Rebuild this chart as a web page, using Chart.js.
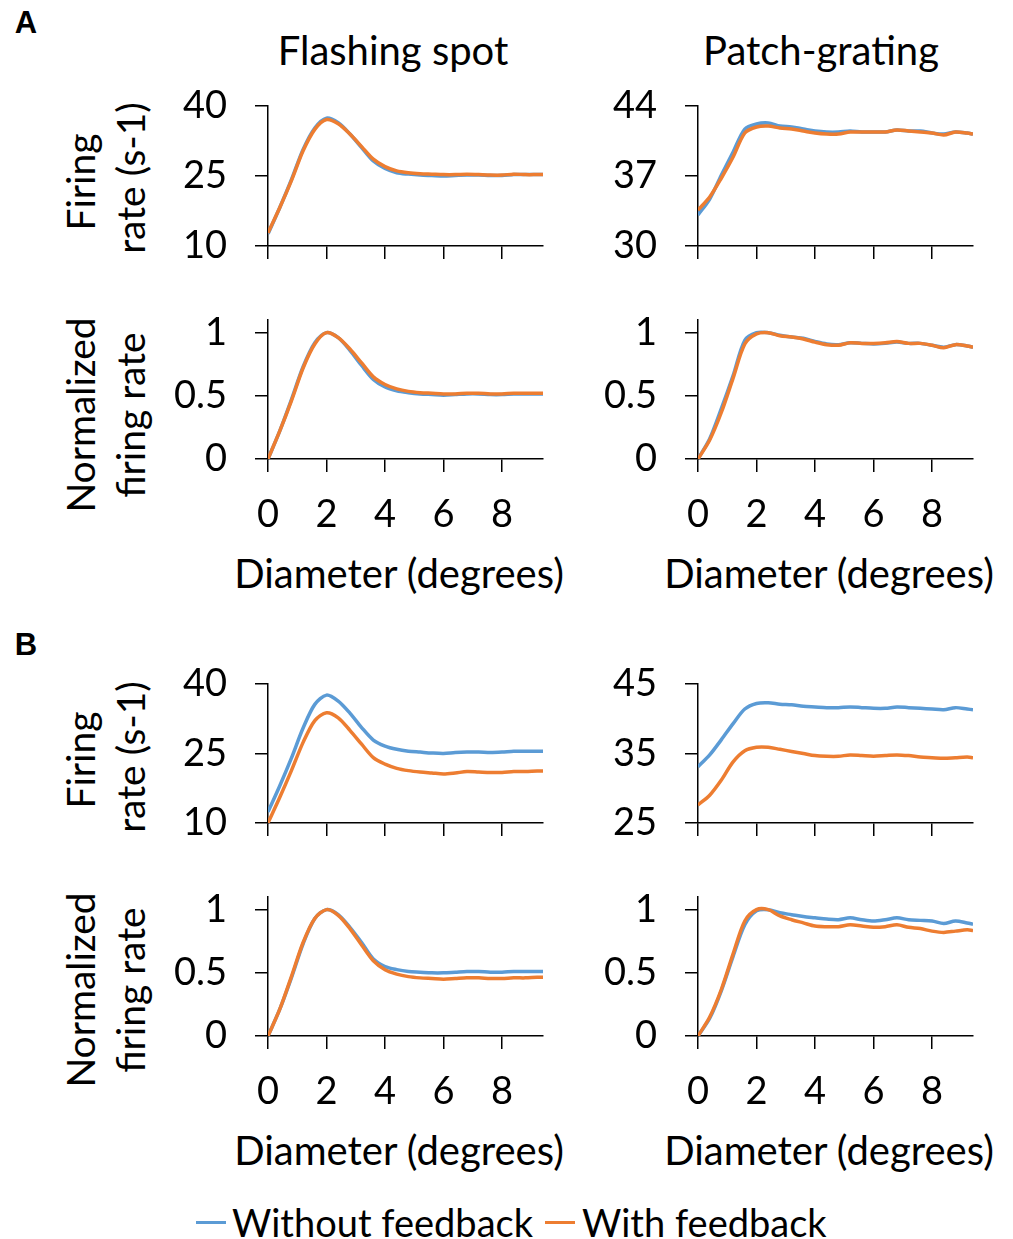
<!DOCTYPE html>
<html>
<head>
<meta charset="utf-8">
<script src="https://cdn.jsdelivr.net/npm/chart.js@4/dist/chart.umd.min.js"></script>
<style>
  body { margin: 0; background: #fff; }
  #wrap { position: relative; width: 1013px; height: 1239px; overflow: hidden; }
  canvas { position: absolute; }
  .t { position: absolute; font-family: Lato, sans-serif; font-size: 40px; color: #000;
       white-space: nowrap; line-height: 1; transform: translate(-50%, -50%); }
  .rot { font-size: 39px; transform: translate(-50%, -50%) rotate(-90deg); }
  .leg { font-size: 38px; transform: translate(0, -50%); }
  .key { position: absolute; height: 3px; width: 30px; }
</style>
</head>
<body>
<div id="wrap">
  <div class="t" style="left:26px; top:22px; font-family:'Liberation Sans', Arial, sans-serif; font-weight:bold; font-size:31px">A</div>
  <div class="t" style="left:26px; top:644px; font-family:'Liberation Sans', Arial, sans-serif; font-weight:bold; font-size:31px">B</div>

  <div class="t" style="left:393px; top:50px">Flashing spot</div>
  <div class="t" style="left:821px; top:50px">Patch-grating</div>

  <div class="t rot" style="left:80px; top:182px">Firing</div>
  <div class="t rot" style="left:130px; top:178px">rate (s-1)</div>
  <div class="t rot" style="left:80px; top:415px">Normalized</div>
  <div class="t rot" style="left:130px; top:415px">firing rate</div>

  <div class="t rot" style="left:80px; top:760px">Firing</div>
  <div class="t rot" style="left:130px; top:757px">rate (s-1)</div>
  <div class="t rot" style="left:80px; top:990px">Normalized</div>
  <div class="t rot" style="left:130px; top:990px">firing rate</div>

  <div class="t" style="left:399px; top:573px">Diameter (degrees)</div>
  <div class="t" style="left:829px; top:573px">Diameter (degrees)</div>
  <div class="t" style="left:399px; top:1150px">Diameter (degrees)</div>
  <div class="t" style="left:829px; top:1150px">Diameter (degrees)</div>

  <div class="key" style="left:196px; top:1221px; background:#5B9BD5"></div>
  <div class="t leg" style="left:232px; top:1222px">Without feedback</div>
  <div class="key" style="left:545px; top:1221px; background:#ED7D31"></div>
  <div class="t leg" style="left:582px; top:1222px">With feedback</div>

  <canvas id="a1" width="390" height="186" style="left:170px; top:80px"></canvas>
  <canvas id="a2" width="390" height="186" style="left:600px; top:80px"></canvas>
  <canvas id="a3" width="390" height="245" style="left:170px; top:300px"></canvas>
  <canvas id="a4" width="390" height="245" style="left:600px; top:300px"></canvas>
  <canvas id="b1" width="390" height="186" style="left:170px; top:657px"></canvas>
  <canvas id="b2" width="390" height="186" style="left:600px; top:657px"></canvas>
  <canvas id="b3" width="390" height="245" style="left:170px; top:877px"></canvas>
  <canvas id="b4" width="390" height="245" style="left:600px; top:877px"></canvas>
</div>
<script>
// diameters (degrees)
const diameter = [0, 0.4, 0.8, 1.2, 1.6, 2.0, 2.4, 2.8, 3.2, 3.6, 4.0, 4.4, 4.8, 5.2, 5.6, 6.0, 6.4, 6.8, 7.2, 7.6, 8.0, 8.4, 8.8, 9.2, 9.4]

// A - flashing spot, firing rate
const aSpotRateOff = [12.6, 18.2, 24.2, 30.7, 35.3, 37.4, 36.4, 34.0, 31.1, 28.2, 26.6, 25.7, 25.4, 25.2, 25.1, 25.0, 25.1, 25.2, 25.2, 25.1, 25.1, 25.3, 25.3, 25.3, 25.3]
const aSpotRateOn = [12.8, 18.2, 24.0, 30.4, 35.0, 37.1, 36.2, 34.0, 31.3, 28.6, 27.0, 26.1, 25.7, 25.5, 25.4, 25.3, 25.3, 25.4, 25.3, 25.2, 25.2, 25.4, 25.3, 25.3, 25.3]
// A - patch grating, firing rate
const aPatchRateOff = [33.1, 34.7, 37.1, 39.4, 41.7, 42.2, 42.3, 42.0, 41.9, 41.7, 41.5, 41.4, 41.4, 41.5, 41.4, 41.4, 41.4, 41.6, 41.5, 41.5, 41.3, 41.2, 41.4, 41.3, 41.2]
const aPatchRateOn = [33.6, 34.9, 36.8, 38.9, 41.3, 41.9, 42.0, 41.8, 41.7, 41.5, 41.3, 41.2, 41.2, 41.4, 41.4, 41.4, 41.4, 41.6, 41.5, 41.4, 41.3, 41.1, 41.4, 41.3, 41.2]
// A - normalized
const aSpotNormOff = [0, 0.22, 0.47, 0.73, 0.92, 1.0, 0.96, 0.86, 0.74, 0.63, 0.57, 0.54, 0.525, 0.515, 0.51, 0.505, 0.51, 0.515, 0.515, 0.51, 0.51, 0.515, 0.515, 0.515, 0.515]
const aSpotNormOn = [0, 0.22, 0.46, 0.72, 0.91, 1.0, 0.96, 0.87, 0.76, 0.65, 0.59, 0.555, 0.535, 0.525, 0.52, 0.515, 0.515, 0.52, 0.52, 0.515, 0.515, 0.52, 0.52, 0.52, 0.52]
const aPatchNormOff = [0, 0.16, 0.40, 0.66, 0.94, 1.0, 1.0, 0.98, 0.965, 0.955, 0.93, 0.91, 0.905, 0.92, 0.915, 0.91, 0.915, 0.925, 0.915, 0.915, 0.90, 0.885, 0.905, 0.895, 0.885]
const aPatchNormOn = [0, 0.15, 0.37, 0.64, 0.91, 0.99, 1.0, 0.975, 0.965, 0.95, 0.925, 0.905, 0.90, 0.92, 0.915, 0.915, 0.92, 0.93, 0.915, 0.915, 0.90, 0.88, 0.905, 0.895, 0.885]

// B - flashing spot, firing rate
const bSpotRateOff = [12.4, 18.0, 24.0, 30.5, 35.6, 37.6, 36.3, 33.7, 30.6, 27.9, 26.6, 25.9, 25.5, 25.3, 25.1, 25.0, 25.2, 25.3, 25.3, 25.2, 25.3, 25.5, 25.5, 25.5, 25.5]
const bSpotRateOn = [10.0, 15.5, 21.3, 27.4, 32.1, 33.8, 32.7, 30.0, 27.0, 24.1, 22.7, 21.8, 21.3, 21.0, 20.8, 20.6, 20.8, 21.1, 21.0, 20.9, 20.9, 21.1, 21.1, 21.2, 21.2]
// B - patch grating, firing rate
const bPatchRateOff = [33.1, 34.8, 37.0, 39.3, 41.4, 42.2, 42.3, 42.1, 42.0, 41.8, 41.7, 41.6, 41.6, 41.7, 41.6, 41.5, 41.5, 41.7, 41.6, 41.5, 41.4, 41.3, 41.6, 41.4, 41.3]
const bPatchRateOn = [27.6, 29.0, 31.2, 33.8, 35.4, 35.9, 35.9, 35.6, 35.3, 35.0, 34.7, 34.6, 34.6, 34.8, 34.7, 34.6, 34.7, 34.8, 34.7, 34.5, 34.4, 34.3, 34.4, 34.5, 34.4]
// B - normalized
const bSpotNormOff = [0, 0.21, 0.46, 0.73, 0.93, 1.0, 0.96, 0.86, 0.74, 0.61, 0.55, 0.525, 0.51, 0.505, 0.50, 0.50, 0.505, 0.51, 0.51, 0.505, 0.505, 0.51, 0.51, 0.51, 0.51]
const bSpotNormOn = [0, 0.21, 0.47, 0.74, 0.93, 1.0, 0.955, 0.85, 0.72, 0.595, 0.525, 0.49, 0.47, 0.46, 0.455, 0.45, 0.455, 0.46, 0.46, 0.455, 0.455, 0.46, 0.46, 0.465, 0.465]
const bPatchNormOff = [0, 0.14, 0.36, 0.63, 0.88, 0.99, 1.0, 0.975, 0.96, 0.945, 0.935, 0.925, 0.92, 0.935, 0.92, 0.91, 0.92, 0.935, 0.92, 0.915, 0.91, 0.89, 0.91, 0.895, 0.885]
const bPatchNormOn = [0, 0.15, 0.37, 0.65, 0.91, 1.0, 1.0, 0.95, 0.92, 0.895, 0.87, 0.865, 0.865, 0.88, 0.87, 0.86, 0.865, 0.88, 0.86, 0.85, 0.83, 0.82, 0.83, 0.84, 0.835]

// y ranges: min, max, step
const rateSpotTicks = [10, 40, 15]
const ratePatchTicksA = [30, 44, 7]
const ratePatchTicksB = [25, 45, 10]
const normTicks = [0, 1.1, 0.5]

const blue = '#5B9BD5'
const orange = '#ED7D31'
const font = { family: 'Lato, sans-serif', size: 38 }

const makePanel = (id, off, on, yr, showX) => {
    const ctx = document.getElementById(id).getContext('2d')
    const pts = arr => diameter.map((d, i) => ({ x: d, y: arr[i] }))
    const axisGrid = { display: true, drawOnChartArea: false, drawTicks: true, tickLength: 13, color: '#000', lineWidth: 1.5 }
    const axisBorder = { display: true, color: '#000', width: 1.5 }
    return new Chart(ctx, {
        type: 'line',
        data: {
            datasets: [
                { label: 'Without feedback', data: pts(off), borderColor: blue, borderWidth: 3.5, pointRadius: 0, tension: 0.3, order: 2 },
                { label: 'With feedback', data: pts(on), borderColor: orange, borderWidth: 3.5, pointRadius: 0, tension: 0.3, order: 1 }
            ]
        },
        options: {
            responsive: false,
            animation: false,
            devicePixelRatio: 1,
            layout: { padding: { top: id[0] == 'b' && !showX ? 27 : (showX ? 20 : 26), right: 17, left: 0, bottom: 0 } },
            plugins: { legend: { display: false }, tooltip: { enabled: false } },
            scales: {
                x: {
                    type: 'linear', min: 0, max: 9.4,
                    grid: axisGrid, border: axisBorder,
                    ticks: { display: showX, stepSize: 2, includeBounds: false, font: font, color: '#000', padding: 20, maxRotation: 0 },
                    afterFit: s => { s.height = showX ? 86 : 20; s.paddingLeft = 0; s.paddingRight = 0 }
                },
                y: {
                    min: yr[0], max: yr[1],
                    grid: axisGrid, border: axisBorder,
                    ticks: { stepSize: yr[2], includeBounds: false, font: font, color: '#000', padding: 28, callback: v => String(v) },
                    afterFit: s => { s.width = 98; s.paddingTop = 0; s.paddingBottom = 0 }
                }
            }
        }
    })
}

makePanel('a1', aSpotRateOff, aSpotRateOn, rateSpotTicks, false)
makePanel('a2', aPatchRateOff, aPatchRateOn, ratePatchTicksA, false)
makePanel('a3', aSpotNormOff, aSpotNormOn, normTicks, true)
makePanel('a4', aPatchNormOff, aPatchNormOn, normTicks, true)
makePanel('b1', bSpotRateOff, bSpotRateOn, rateSpotTicks, false)
makePanel('b2', bPatchRateOff, bPatchRateOn, ratePatchTicksB, false)
makePanel('b3', bSpotNormOff, bSpotNormOn, normTicks, true)
makePanel('b4', bPatchNormOff, bPatchNormOn, normTicks, true)
</script>
</body>
</html>
